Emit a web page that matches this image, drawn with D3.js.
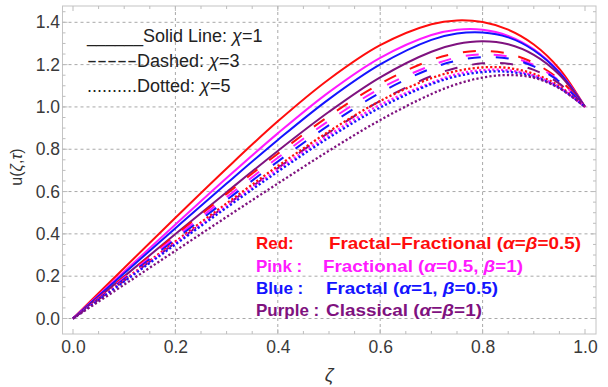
<!DOCTYPE html>
<html>
<head>
<meta charset="utf-8">
<script src="https://cdn.jsdelivr.net/npm/d3@7"></script>
<style>
  html, body { margin: 0; padding: 0; background: #fff; }
  svg { display: block; }
  text { font-family: "Liberation Sans", Arial, sans-serif; }
</style>
</head>
<body>
<svg id="chart" width="608" height="387"></svg>
<script>
// Velocity profiles u(ζ,τ) across the channel, sampled at these ζ stations
const zeta = [0, 0.1, 0.2, 0.3, 0.4, 0.5, 0.6, 0.7, 0.75, 0.8, 0.85, 0.9, 0.95, 1];

// χ = 1 (solid)
const redSolid    = [0, 0.239, 0.476, 0.709, 0.932, 1.131, 1.292, 1.391, 1.409, 1.401, 1.365, 1.295, 1.18, 1];
const pinkSolid   = [0, 0.222, 0.444, 0.664, 0.875, 1.070, 1.232, 1.340, 1.365, 1.365, 1.336, 1.272, 1.165, 1];
const blueSolid   = [0, 0.214, 0.427, 0.638, 0.844, 1.037, 1.201, 1.317, 1.347, 1.352, 1.329, 1.268, 1.162, 1];
const purpleSolid = [0, 0.199, 0.399, 0.597, 0.792, 0.977, 1.140, 1.261, 1.297, 1.310, 1.296, 1.246, 1.152, 1];
// χ = 3 (dashed)
const redDashed    = [0, 0.197, 0.394, 0.589, 0.779, 0.957, 1.110, 1.222, 1.254, 1.265, 1.252, 1.208, 1.13, 1];
const pinkDashed   = [0, 0.192, 0.384, 0.574, 0.760, 0.935, 1.087, 1.196, 1.234, 1.248, 1.238, 1.198, 1.123, 1];
const blueDashed   = [0, 0.187, 0.374, 0.560, 0.742, 0.914, 1.067, 1.182, 1.219, 1.235, 1.229, 1.192, 1.12, 1];
const purpleDashed = [0, 0.179, 0.358, 0.536, 0.711, 0.879, 1.029, 1.146, 1.185, 1.206, 1.204, 1.175, 1.11, 1];
// χ = 5 (dotted)
const redDotted    = [0, 0.182, 0.364, 0.544, 0.720, 0.884, 1.028, 1.136, 1.170, 1.187, 1.184, 1.156, 1.098, 1];
const pinkDotted   = [0, 0.178, 0.356, 0.532, 0.705, 0.867, 1.010, 1.114, 1.155, 1.174, 1.173, 1.148, 1.093, 1];
const blueDotted   = [0, 0.175, 0.350, 0.524, 0.694, 0.855, 0.997, 1.108, 1.145, 1.165, 1.166, 1.143, 1.09, 1];
const purpleDotted = [0, 0.160, 0.320, 0.480, 0.638, 0.793, 0.938, 1.061, 1.108, 1.139, 1.151, 1.138, 1.088, 1];

const xTicks = [0, 0.2, 0.4, 0.6, 0.8, 1.0];
const yTicks = [0, 0.2, 0.4, 0.6, 0.8, 1.0, 1.2, 1.4];
const xGrid = [0.2, 0.4, 0.6, 0.8];

const styleLegend = ["______Solid Line: χ=1", "-----Dashed: χ=3", "..........Dotted: χ=5"];
const modelKeys = ["Red:", "Pink :", "Blue :", "Purple :"];
const modelNames = ["Fractal–Fractional (α=β=0.5)", "Fractional (α=0.5, β=1)", "Fractal (α=1, β=0.5)", "Classical (α=β=1)"];

const colors = { red: "#ff0d0d", pink: "#ff1aff", blue: "#1414ff", purple: "#7f127f" };
const dashes = { solid: null, dashed: "13,15", dotted: "2.2,2.2" };

const series = [
  { v: redSolid, c: "red", s: "solid" }, { v: pinkSolid, c: "pink", s: "solid" },
  { v: blueSolid, c: "blue", s: "solid" }, { v: purpleSolid, c: "purple", s: "solid" },
  { v: redDashed, c: "red", s: "dashed" }, { v: pinkDashed, c: "pink", s: "dashed" },
  { v: blueDashed, c: "blue", s: "dashed" }, { v: purpleDashed, c: "purple", s: "dashed" },
  { v: redDotted, c: "red", s: "dotted" }, { v: pinkDotted, c: "pink", s: "dotted" },
  { v: blueDotted, c: "blue", s: "dotted" }, { v: purpleDotted, c: "purple", s: "dotted" }
];

const svg = d3.select("#chart");
const frame = { left: 62.5, right: 596, top: 6, bottom: 334 };

const x = d3.scaleLinear().domain([0, 1]).range([73, 585]);
const y = d3.scaleLinear().domain([0, 1.4]).range([318.5, 22.3]);

// frame
svg.append("rect")
  .attr("x", frame.left).attr("y", frame.top)
  .attr("width", frame.right - frame.left).attr("height", frame.bottom - frame.top)
  .attr("fill", "none").attr("stroke", "#c4c4c4").attr("stroke-width", 1);

// grid lines
const grid = svg.append("g").attr("stroke", "#a8a8a8").attr("stroke-width", 1).attr("stroke-dasharray", "3,3");
grid.selectAll(".gh").data(yTicks).join("line")
  .attr("x1", frame.left).attr("x2", frame.right)
  .attr("y1", d => y(d)).attr("y2", d => y(d));
grid.selectAll(".gv").data(xGrid).join("line")
  .attr("y1", frame.top).attr("y2", frame.bottom)
  .attr("x1", d => x(d)).attr("x2", d => x(d));

// frame ticks (major + minor) on all four sides
const xMinor = d3.range(0, 1.0001, 0.05).map(d => +d.toFixed(2));
const yMinor = d3.range(0, 1.4501, 0.05).map(d => +d.toFixed(2)).filter(d => y(d) > frame.top);
const isMajor = (v, list) => list.some(t => Math.abs(t - v) < 1e-6);
const tk = svg.append("g").attr("stroke", "#bdbdbd").attr("stroke-width", 1);
xMinor.forEach(d => {
  const L = isMajor(d, xTicks) ? 5 : 3;
  tk.append("line").attr("x1", x(d)).attr("x2", x(d)).attr("y1", frame.bottom).attr("y2", frame.bottom - L);
  tk.append("line").attr("x1", x(d)).attr("x2", x(d)).attr("y1", frame.top).attr("y2", frame.top + L);
});
yMinor.forEach(d => {
  const L = isMajor(d, yTicks) ? 5 : 3;
  tk.append("line").attr("y1", y(d)).attr("y2", y(d)).attr("x1", frame.left).attr("x2", frame.left + L);
  tk.append("line").attr("y1", y(d)).attr("y2", y(d)).attr("x1", frame.right).attr("x2", frame.right - L);
});

// tick labels through d3 axes
const fmt = d3.format(".1f");
const xAxis = svg.append("g").attr("transform", `translate(0,${frame.bottom})`)
  .call(d3.axisBottom(x).tickValues(xTicks).tickFormat(fmt).tickSize(0).tickPadding(7));
const yAxis = svg.append("g").attr("transform", `translate(${frame.left},0)`)
  .call(d3.axisLeft(y).tickValues(yTicks).tickFormat(fmt).tickSize(0).tickPadding(2.5));
[xAxis, yAxis].forEach(a => {
  a.select(".domain").remove();
  a.selectAll("text").attr("font-size", 17.5).attr("fill", "#3a3a3a")
    .attr("font-family", "'Liberation Sans', Arial, sans-serif");
});

// axis titles
svg.append("text").attr("x", (frame.left + frame.right) / 2).attr("y", 381)
  .attr("text-anchor", "middle").attr("font-size", 19).attr("font-style", "italic")
  .attr("fill", "#333").text("ζ");
const yt = svg.append("text").attr("transform", "translate(22,167) rotate(-90)")
  .attr("text-anchor", "middle").attr("font-size", 16).attr("fill", "#333");
yt.append("tspan").text("u(");
yt.append("tspan").attr("font-style", "italic").text("ζ");
yt.append("tspan").text(",");
yt.append("tspan").attr("font-style", "italic").text("τ");
yt.append("tspan").text(")");

// curves
const line = d3.line().x((d, i) => x(zeta[i])).y(d => y(d)).curve(d3.curveCatmullRom.alpha(0.5));
svg.append("g").selectAll("path").data(series).join("path")
  .attr("d", d => line(d.v))
  .attr("fill", "none")
  .attr("stroke", d => colors[d.c])
  .attr("stroke-width", d => d.s === "dotted" ? 2.3 : 2)
  .attr("stroke-dasharray", d => dashes[d.s])
  .attr("stroke-linecap", "butt");

// line-style legend (top left)
const leaders = [styleLegend[0].match(/^_+/)[0], styleLegend[1].match(/^-+/)[0], styleLegend[2].match(/^\.+/)[0]];
const leaderW = [56, 50, 50];
const styleY = [42, 67, 92];
styleLegend.forEach((s, i) => {
  const lead = leaders[i];
  const rest = s.slice(lead.length);
  svg.append("text").attr("x", 87).attr("y", styleY[i]).attr("font-size", 18).attr("fill", "#222")
    .attr("textLength", leaderW[i]).attr("lengthAdjust", "spacingAndGlyphs").text(lead);
  const t = svg.append("text").attr("x", 87 + leaderW[i]).attr("y", styleY[i])
    .attr("font-size", 18).attr("fill", "#222");
  const parts = rest.split("χ");
  t.append("tspan").text(parts[0]);
  t.append("tspan").attr("font-style", "italic").text("χ");
  t.append("tspan").text(parts[1]);
});

// model legend (bottom right)
const keyColors = ["red", "pink", "blue", "purple"];
const nameX = [329, 323, 326, 326];
const nameW = [252, 200, 172, 156];
const rowY = [248.5, 271.5, 293.5, 316];
modelKeys.forEach((k, i) => {
  svg.append("text").attr("x", 256).attr("y", rowY[i]).attr("font-size", 17).attr("font-weight", "bold")
    .attr("fill", colors[keyColors[i]]).text(k);
  const t = svg.append("text").attr("x", nameX[i]).attr("y", rowY[i]).attr("font-size", 17)
    .attr("font-weight", "bold").attr("fill", colors[keyColors[i]])
    .attr("textLength", nameW[i]).attr("lengthAdjust", "spacingAndGlyphs");
  modelNames[i].split(/([αβ])/).forEach(p => {
    if (!p) return;
    const ts = t.append("tspan").text(p);
    if (p === "α" || p === "β") ts.attr("font-style", "italic");
  });
});
</script>
</body>
</html>
